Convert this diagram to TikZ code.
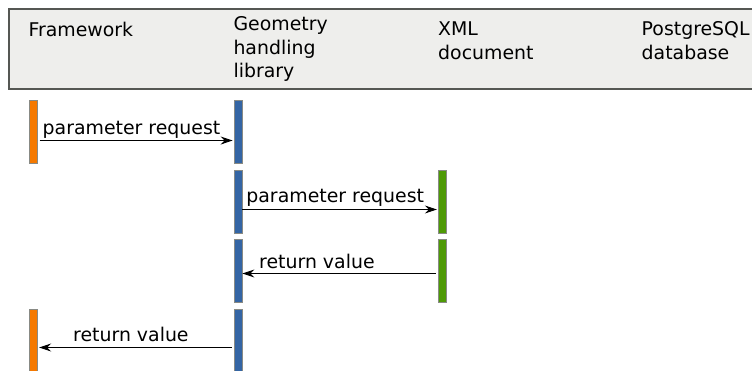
\documentclass[tikz,border=0pt]{standalone}
\usepackage{fontspec}
\setmainfont{DejaVu Sans}
\usetikzlibrary{arrows.meta}
\definecolor{hdrfill}{HTML}{EEEEEC}
\definecolor{hdrdraw}{HTML}{555753}
\definecolor{bardraw}{HTML}{888A85}
\definecolor{orangeC}{HTML}{F57900}
\definecolor{blueC}{HTML}{3465A4}
\definecolor{greenC}{HTML}{4E9A06}
\tikzset{
  hdr/.style={draw=hdrdraw, fill=hdrfill, line width=1.2pt},
  lbl/.style={anchor=base west, inner sep=0pt, align=left},
  actbar/.style={draw=bardraw, line width=0.9pt, anchor=north west, minimum width=8pt, minimum height=63.3pt, inner sep=0pt},
  longbar/.style={actbar, minimum height=70pt},
  msg/.style={draw=black, line width=1pt, -{Stealth[length=12pt, width=8pt, inset=4pt]}},
  msglbl/.style={anchor=base west, inner sep=0pt}
}
\begin{document}
\begin{tikzpicture}[x=1pt, y=-1pt, font=\fontsize{18.9}{23.5}\selectfont]
\useasboundingbox (0,0) rectangle (752,370);
% header band
\draw[hdr] (9,9) rectangle (780,89);
\node[lbl] (hfw) at (28.3,36) {Framework};
\node[lbl] (hgeo) at (233.3,77.7) {Geometry\\handling\\library};
\node[lbl] (hxml) at (438,59.3) {XML\\document};
\node[lbl] (hpg) at (641.5,59.3) {PostgreSQL\\database};
% activation bars
\node[actbar, fill=orangeC] (f1) at (29.3,100) {};
\node[actbar, fill=blueC] (g1) at (233.5,100) {};
\node[actbar, fill=blueC] (g2) at (233.5,170) {};
\node[actbar, fill=greenC] (x1) at (437.7,170) {};
\node[actbar, fill=blueC] (g3) at (233.5,239) {};
\node[actbar, fill=greenC] (x2) at (437.7,239) {};
\node[longbar, fill=orangeC] (f2) at (29.3,309) {};
\node[longbar, fill=blueC] (g4) at (233.5,309) {};
% messages
\coordinate (y1) at (0,140.5);
\coordinate (y2) at (0,209.5);
\coordinate (y3) at (0,273.5);
\coordinate (y4) at (0,347.5);
\draw[msg, shorten <=1.5pt, shorten >=0.8pt] (f1.east |- y1) -- (g1.west |- y1);
\node[msglbl] (m1) at (42.5,134.3) {parameter request};
\draw[msg, shorten >=0.8pt] (g2.east |- y2) -- (x1.west |- y2);
\node[msglbl] (m2) at (246.2,202.3) {parameter request};
\draw[msg, shorten <=2pt] (x2.west |- y3) -- (g3.east |- y3);
\node[msglbl] (m3) at (259,268.3) {return value};
\draw[msg, shorten <=1.8pt, shorten >=1pt] (g4.west |- y4) -- (f2.east |- y4);
\node[msglbl] (m4) at (73,341) {return value};
\end{tikzpicture}
\end{document}
